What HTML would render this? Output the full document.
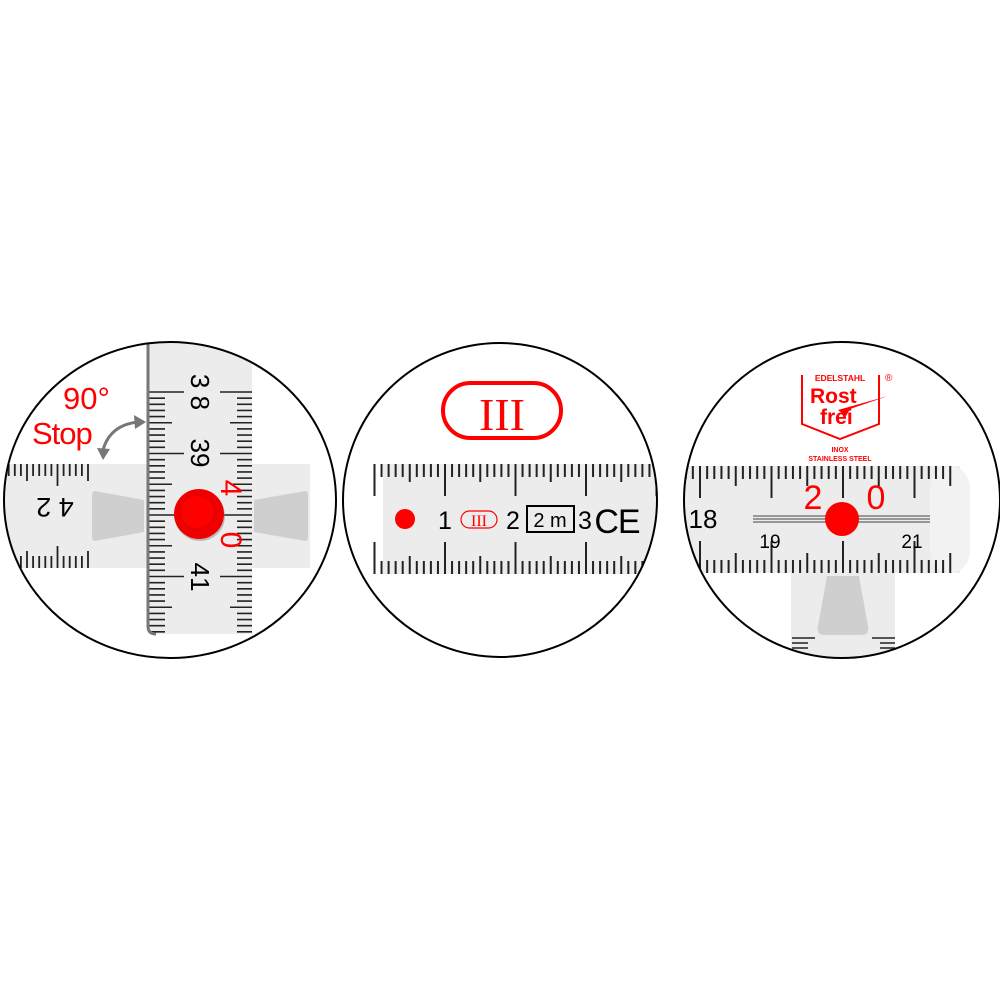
<!DOCTYPE html>
<html><head><meta charset="utf-8"><style>
html,body{margin:0;padding:0;background:#fff;}
svg{display:block;}
</style></head><body>
<svg id="s" width="1000" height="1000" viewBox="0 0 1000 1000" xmlns="http://www.w3.org/2000/svg" font-family="Liberation Sans, sans-serif">
<defs>
<clipPath id="c1"><ellipse cx="170" cy="500" rx="166" ry="158"/></clipPath>
<clipPath id="c2"><circle cx="500" cy="500" r="157"/></clipPath>
<clipPath id="c3"><circle cx="842" cy="500" r="158"/></clipPath>
<clipPath id="vr"><path d="M148 330 L252 330 L252 634 L156 634 Q148 634 148 626Z"/></clipPath>
</defs>
<g clip-path="url(#c1)">
  <rect x="0" y="464" width="310" height="104" fill="#ececec"/>
  <g id="lh"></g>
  <text x="55" y="516" font-size="27" text-anchor="middle" transform="rotate(180 55 507)">4 2</text>
  <path d="M95 491 L144 500 L144 532 L95 541 Q92 541 92 536 L92 496 Q92 491 95 491Z" fill="#cfcfcf"/>
  <path d="M305 491 L254 500 L254 532 L305 541 Q308 541 308 536 L308 496 Q308 491 305 491Z" fill="#cfcfcf"/>
  <path d="M148 330 L252 330 L252 634 L156 634 Q148 634 148 626Z" fill="#ececec"/>
  <g id="lv" clip-path="url(#vr)"></g>
  <path d="M148 330 L148 626 Q148 634 156 634" fill="none" stroke="#777" stroke-width="3"/>
  <text font-size="26" text-anchor="middle" transform="translate(191 392) rotate(90)">3 8</text>
  <text font-size="26" text-anchor="middle" transform="translate(191 453) rotate(90)">39</text>
  <text font-size="26" text-anchor="middle" transform="translate(191 577) rotate(90)">41</text>
  <text font-size="30" fill="#f00" text-anchor="middle" transform="translate(221 488) rotate(90)">4</text>
  <text font-size="30" fill="#f00" text-anchor="middle" transform="translate(221 540) rotate(90)">0</text>
  <circle cx="200" cy="516" r="25" fill="#888" opacity="0.5"/>
  <circle cx="199" cy="514" r="25" fill="#e00"/>
  <circle cx="197" cy="512" r="17" fill="#f00" stroke="#d00" stroke-width="1"/>
  <text x="63" y="409" font-size="31" fill="#f00">90°</text>
  <text x="32" y="444" font-size="31" fill="#f00" letter-spacing="-1">Stop</text>
  <path d="M103 450 Q110 425 138 422" fill="none" stroke="#777" stroke-width="3"/>
  <path d="M146 422 L134 415 L135 429Z" fill="#777"/>
  <path d="M103 460 L97 448 L110 449Z" fill="#777"/>
</g>
<ellipse cx="170" cy="500" rx="166" ry="158" fill="none" stroke="#000" stroke-width="2"/>

<g clip-path="url(#c2)">
  <rect x="383" y="464" width="300" height="110" fill="#ececec"/>
  <g id="mh"></g>
  <circle cx="405" cy="519" r="10" fill="#f00"/>
  <text x="445" y="529" font-size="25" text-anchor="middle">1</text>
  <rect x="461" y="511" width="36" height="17" rx="8.5" fill="none" stroke="#f00" stroke-width="1.2"/>
  <text x="479" y="526" font-size="16" fill="#f00" text-anchor="middle" style="font-family:'Liberation Serif',serif">III</text>
  <text x="513" y="529" font-size="25" text-anchor="middle">2</text>
  <rect x="527" y="506" width="47" height="26" fill="none" stroke="#000" stroke-width="2"/>
  <text x="550" y="527" font-size="20" text-anchor="middle">2 m</text>
  <text x="585" y="529" font-size="25" text-anchor="middle">3</text>
  <text x="617" y="533" font-size="34" text-anchor="middle" letter-spacing="-1">CE</text>
</g>
<circle cx="500" cy="500" r="157" fill="none" stroke="#000" stroke-width="2"/>
<rect x="443" y="383" width="118" height="55" rx="27.5" fill="none" stroke="#f00" stroke-width="4"/>
<text x="502" y="430" font-size="46" fill="#f00" text-anchor="middle" style="font-family:'Liberation Serif',serif">III</text>

<g clip-path="url(#c3)">
  <rect x="684" y="466" width="276" height="107" fill="#ececec"/>
  <rect x="930" y="466" width="40" height="107" rx="22" fill="#f2f2f2"/>
  <rect x="791" y="573" width="104" height="90" fill="#ececec"/>
  <path d="M827 576 L859 576 L868 626 Q870 635 861 635 L825 635 Q816 635 818 626Z" fill="#cfcfcf"/>
  <g stroke="#222" stroke-width="1.5"><line x1="792" y1="638" x2="815" y2="638"/><line x1="792" y1="643" x2="808" y2="643"/><line x1="792" y1="648" x2="808" y2="648"/><line x1="872" y1="638" x2="895" y2="638"/><line x1="880" y1="643" x2="895" y2="643"/><line x1="880" y1="648" x2="895" y2="648"/></g>
  <g id="rh"></g>
  <text x="703" y="528" font-size="26" text-anchor="middle">18</text>
  <text x="770" y="548" font-size="19" text-anchor="middle">19</text>
  <text x="912" y="548" font-size="19" text-anchor="middle">21</text>
  <text x="813" y="509" font-size="34" fill="#f00" text-anchor="middle">2</text>
  <text x="876" y="509" font-size="34" fill="#f00" text-anchor="middle">0</text>
  <g stroke="#666" stroke-width="1.3"><line x1="753" y1="516" x2="930" y2="516"/><line x1="753" y1="519" x2="930" y2="519"/><line x1="753" y1="522" x2="930" y2="522"/></g>
  <circle cx="842" cy="519" r="17" fill="#f00"/>
</g>
<circle cx="842" cy="500" r="158" fill="none" stroke="#000" stroke-width="2"/>
<path d="M802 375 L802 424 L840 439 L879 424 L879 375" fill="none" stroke="#f00" stroke-width="2"/>
<text x="840" y="381" font-size="8.5" font-weight="bold" fill="#f00" text-anchor="middle">EDELSTAHL</text>
<text x="885" y="381" font-size="10" fill="#f00">®</text>
<text x="810" y="403" font-size="21" font-weight="bold" fill="#f00">Rost</text>
<text x="820" y="424" font-size="21" font-weight="bold" fill="#f00">frei</text>
<path d="M838 410 L888 396 L850 409 L846 416Z" fill="#f00"/>
<text x="840" y="452" font-size="7" font-weight="bold" fill="#f00" text-anchor="middle">INOX</text>
<text x="840" y="461" font-size="7" font-weight="bold" fill="#f00" text-anchor="middle">STAINLESS STEEL</text>
<script>
function L(g,x1,y1,x2,y2,w){var e=document.createElementNS("http://www.w3.org/2000/svg","line");e.setAttribute("x1",x1);e.setAttribute("y1",y1);e.setAttribute("x2",x2);e.setAttribute("y2",y2);e.setAttribute("stroke","#222");e.setAttribute("stroke-width",w||2);document.getElementById(g).appendChild(e);}
for(var i=-20;i<=40;i++){var y=515+i*6.15,m=((i%10)+10)%10,len=m==0?36:(m==5?24:17);L("lv",148,y,148+len,y,1.6);var len2=m==0?32:(m==5?22:15);L("lv",252,y,252-len2,y,1.6);}
for(var i=0;i<15;i++){var x=88-i*6.1,m=(i+5)%10,len=m==0?22:(m==5?17:12);L("lh",x,464,x,464+len,1.8);L("lh",x,568,x,568-len,1.8);}
for(var i=-10;i<40;i++){var x=445+i*7.05,m=((i%10)+10)%10,len=m==0?32:(m==5?18:13);L("mh",x,464,x,464+len);L("mh",x,574,x,574-len);}
for(var i=-5;i<=36;i++){var x=700+i*7.15;if(x>954)break;var m=((i%10)+10)%10,len=m==0?32:(m==5?20:13);L("rh",x,466,x,466+len);L("rh",x,573,x,573-len);}
</script>
</svg>
</body></html>
